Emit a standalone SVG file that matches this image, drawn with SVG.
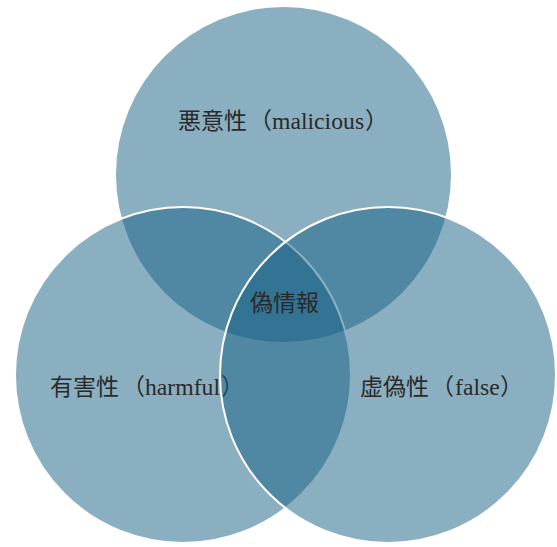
<svg xmlns="http://www.w3.org/2000/svg" width="557" height="547" viewBox="0 0 557 547">
<style>
.c{fill:rgb(21,95,131);fill-opacity:0.5}
.s{stroke:#fff;stroke-width:2}
.t{font-family:"Liberation Serif","Noto Sans CJK JP",serif;font-size:23px;fill:#2a2a2a}
.l{font-size:23.7px}
</style>
<rect width="557" height="547" fill="#fff"/>
<g id="malicious">
<circle class="c" cx="283.5" cy="174.5" r="167.5"/>
<text class="t" x="178" y="129">悪意性<tspan x="249">（</tspan><tspan class="l" x="272">malicious</tspan><tspan x="365">）</tspan></text>
</g>
<g id="harmful">
<circle class="c s" cx="183" cy="375" r="168"/>
<text class="t" x="50" y="395">有害性<tspan x="122">（</tspan><tspan class="l" x="145">harmful</tspan><tspan x="221">）</tspan></text>
</g>
<g id="false">
<circle class="c s" cx="388" cy="375" r="168"/>
<text class="t" x="360" y="395">虚偽性<tspan x="431">（</tspan><tspan class="l" x="455">false</tspan><tspan x="500">）</tspan></text>
</g>
<g id="disinformation">
<text class="t" x="250" y="311">偽情報</text>
</g>
</svg>
